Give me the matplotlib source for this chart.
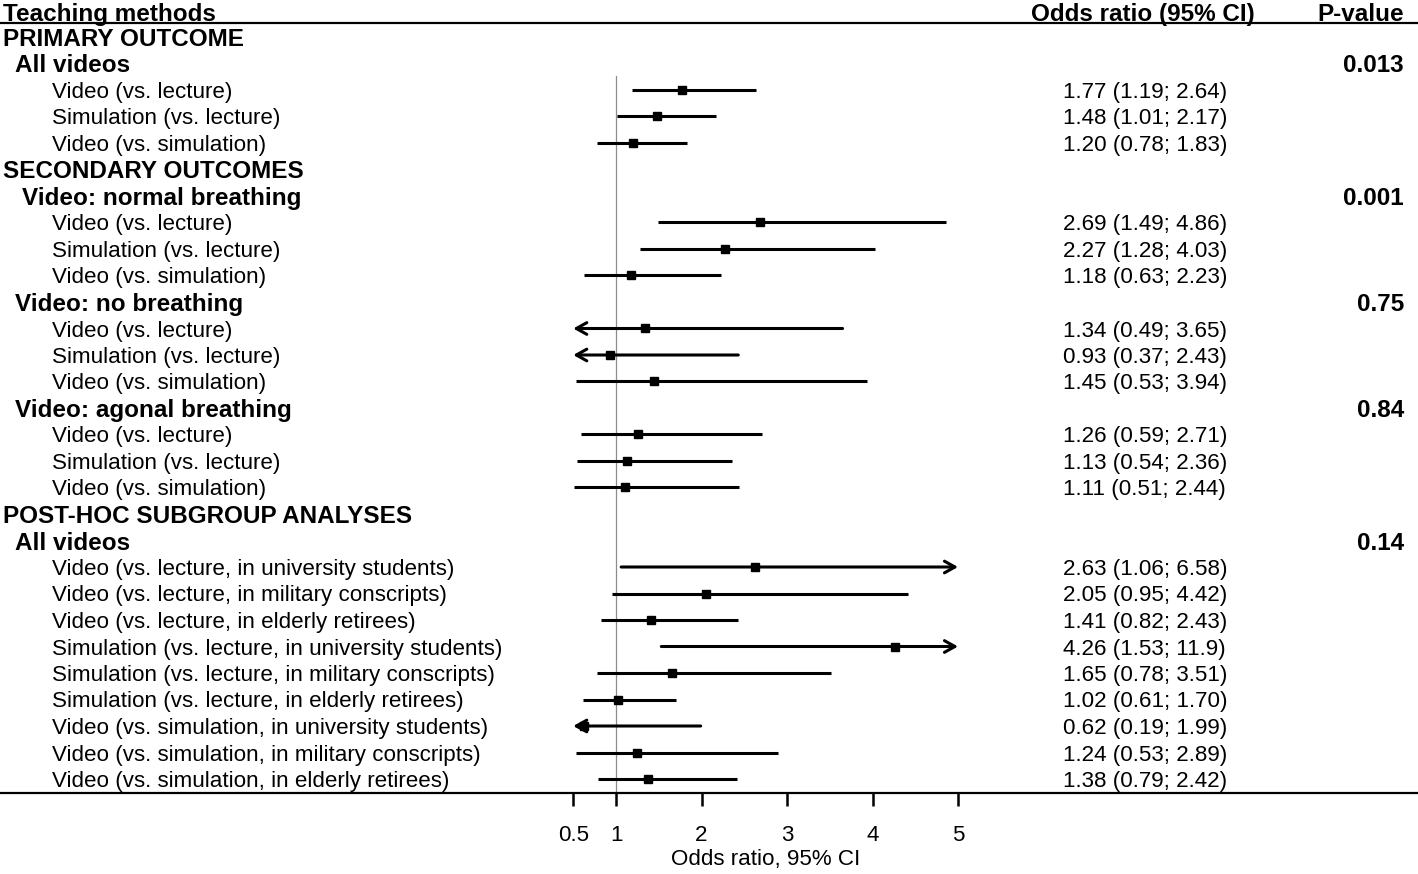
import numpy as np
import matplotlib
matplotlib.use('Agg')
import matplotlib.pyplot as plt
import matplotlib.transforms as mtransforms

plt.rcParams['font.family'] = ['Liberation Sans', 'DejaVu Sans']

# filas: tipo 's' = seccion, 'g' = grupo (con p-valor), 'i' = comparacion
labels = ['PRIMARY OUTCOME', 'All videos',
          'Video (vs. lecture)', 'Simulation (vs. lecture)', 'Video (vs. simulation)',
          'SECONDARY OUTCOMES', 'Video: normal breathing',
          'Video (vs. lecture)', 'Simulation (vs. lecture)', 'Video (vs. simulation)',
          'Video: no breathing',
          'Video (vs. lecture)', 'Simulation (vs. lecture)', 'Video (vs. simulation)',
          'Video: agonal breathing',
          'Video (vs. lecture)', 'Simulation (vs. lecture)', 'Video (vs. simulation)',
          'POST-HOC SUBGROUP ANALYSES', 'All videos',
          'Video (vs. lecture, in university students)',
          'Video (vs. lecture, in military conscripts)',
          'Video (vs. lecture, in elderly retirees)',
          'Simulation (vs. lecture, in university students)',
          'Simulation (vs. lecture, in military conscripts)',
          'Simulation (vs. lecture, in elderly retirees)',
          'Video (vs. simulation, in university students)',
          'Video (vs. simulation, in military conscripts)',
          'Video (vs. simulation, in elderly retirees)']
kinds = ['s', 'g', 'i', 'i', 'i',
         's', 'g', 'i', 'i', 'i',
         'g', 'i', 'i', 'i',
         'g', 'i', 'i', 'i',
         's', 'g'] + ['i'] * 9
pvals = {1: '0.013', 6: '0.001', 10: '0.75', 14: '0.84', 19: '0.14'}
# sangria de los titulos de grupo (px)
group_indent = {1: 15, 6: 22, 10: 15, 14: 15, 19: 15}

OR = [1.77, 1.48, 1.20,
      2.69, 2.27, 1.18,
      1.34, 0.93, 1.45,
      1.26, 1.13, 1.11,
      2.63, 2.05, 1.41, 4.26, 1.65, 1.02, 0.62, 1.24, 1.38]
lo = [1.19, 1.01, 0.78,
      1.49, 1.28, 0.63,
      0.49, 0.37, 0.53,
      0.59, 0.54, 0.51,
      1.06, 0.95, 0.82, 1.53, 0.78, 0.61, 0.19, 0.53, 0.79]
hi = [2.64, 2.17, 1.83,
      4.86, 4.03, 2.23,
      3.65, 2.43, 3.94,
      2.71, 2.36, 2.44,
      6.58, 4.42, 2.43, 11.9, 3.51, 1.70, 1.99, 2.89, 2.42]
or_txt = ['1.77 (1.19; 2.64)', '1.48 (1.01; 2.17)', '1.20 (0.78; 1.83)',
          '2.69 (1.49; 4.86)', '2.27 (1.28; 4.03)', '1.18 (0.63; 2.23)',
          '1.34 (0.49; 3.65)', '0.93 (0.37; 2.43)', '1.45 (0.53; 3.94)',
          '1.26 (0.59; 2.71)', '1.13 (0.54; 2.36)', '1.11 (0.51; 2.44)',
          '2.63 (1.06; 6.58)', '2.05 (0.95; 4.42)', '1.41 (0.82; 2.43)',
          '4.26 (1.53; 11.9)', '1.65 (0.78; 3.51)', '1.02 (0.61; 1.70)',
          '0.62 (0.19; 1.99)', '1.24 (0.53; 2.89)', '1.38 (0.79; 2.42)']
xticks = [0.5, 1, 2, 3, 4, 5]
xmin, xmax = 0.5, 5

W, H = 1418, 874
fig = plt.figure(figsize=(W / 100, H / 100), dpi=100)
# ejes a lo ancho de toda la figura: linea superior y=23px, inferior y=793px
ax = fig.add_axes([0, (H - 793) / H, 1, (793 - 23) / H])
px0, pxu = 616, 85.5  # px de OR=1 y px por unidad
ax.set_xlim(1 - px0 / pxu, 1 + (W - px0) / pxu)
y0, dy = 37, 26.5
ax.set_ylim((793 - y0) / dy, (23 - y0) / dy)

for s in ['left', 'right']:
    ax.spines[s].set_visible(False)
ax.spines['top'].set_linewidth(1.6)
ax.spines['bottom'].set_linewidth(1.6)
ax.set_yticks([])
ax.set_xticks(xticks)
ax.set_xticklabels(['0.5', '1', '2', '3', '4', '5'])
ax.tick_params(axis='x', direction='out', length=9, width=1.8, pad=14, labelsize=16.1)

trans = mtransforms.blended_transform_factory(ax.transAxes, ax.transData)

def fx(px):
    return px / W

fs = 16.1   # texto normal
fb = 17.5   # texto en negrita
toff = 2.5 / dy  # pequeño desplazamiento vertical del texto

# cabecera
yh = (12 - y0) / dy + toff
ax.text(fx(3), yh, 'Teaching methods', transform=trans, fontsize=fb, fontweight='bold',
        va='center', ha='left', clip_on=False)
ax.text(fx(1143), yh, 'Odds ratio (95% CI)', transform=trans, fontsize=fb, fontweight='bold',
        va='center', ha='center', clip_on=False)
ax.text(fx(1404), yh, 'P-value', transform=trans, fontsize=fb, fontweight='bold',
        va='center', ha='right', clip_on=False)

# linea de referencia en OR = 1
ax.plot([1, 1], [1.47, (793 - y0) / dy], color='#8c8c8c', lw=0.9, zorder=1)

aprops = dict(arrowstyle='->,head_length=0.75,head_width=0.42', color='black', lw=2.2,
              shrinkA=0, shrinkB=0)
k = 0
for i, (lab, kind) in enumerate(zip(labels, kinds)):
    yt = i + toff
    if kind == 's':
        ax.text(fx(3), yt, lab, transform=trans, fontsize=fb, fontweight='bold', va='center')
        continue
    if kind == 'g':
        ax.text(fx(group_indent[i]), yt, lab, transform=trans, fontsize=fb,
                fontweight='bold', va='center')
        ax.text(fx(1404), yt, pvals[i], transform=trans, fontsize=fb,
                fontweight='bold', va='center', ha='right')
        continue
    ax.text(fx(52), yt, lab, transform=trans, fontsize=fs, va='center')
    ax.text(fx(1063), yt, or_txt[k], transform=trans, fontsize=fs, va='center')
    a, b = max(lo[k], xmin), min(hi[k], xmax)
    if lo[k] < xmin:
        ax.annotate('', xy=(xmin, i), xytext=(b, i), arrowprops=aprops)
    elif hi[k] > xmax:
        ax.annotate('', xy=(xmax, i), xytext=(a, i), arrowprops=aprops)
    else:
        ax.plot([a, b], [i, i], color='black', lw=2.2, solid_capstyle='butt', zorder=2)
    ax.plot(OR[k], i, marker='s', color='black', ms=6, zorder=3)
    k += 1

ax.text((xmin + xmax) / 2, (860 - y0) / dy, 'Odds ratio, 95% CI', fontsize=fs,
        ha='center', va='center', clip_on=False)

fig.savefig('out.png', dpi=100)
